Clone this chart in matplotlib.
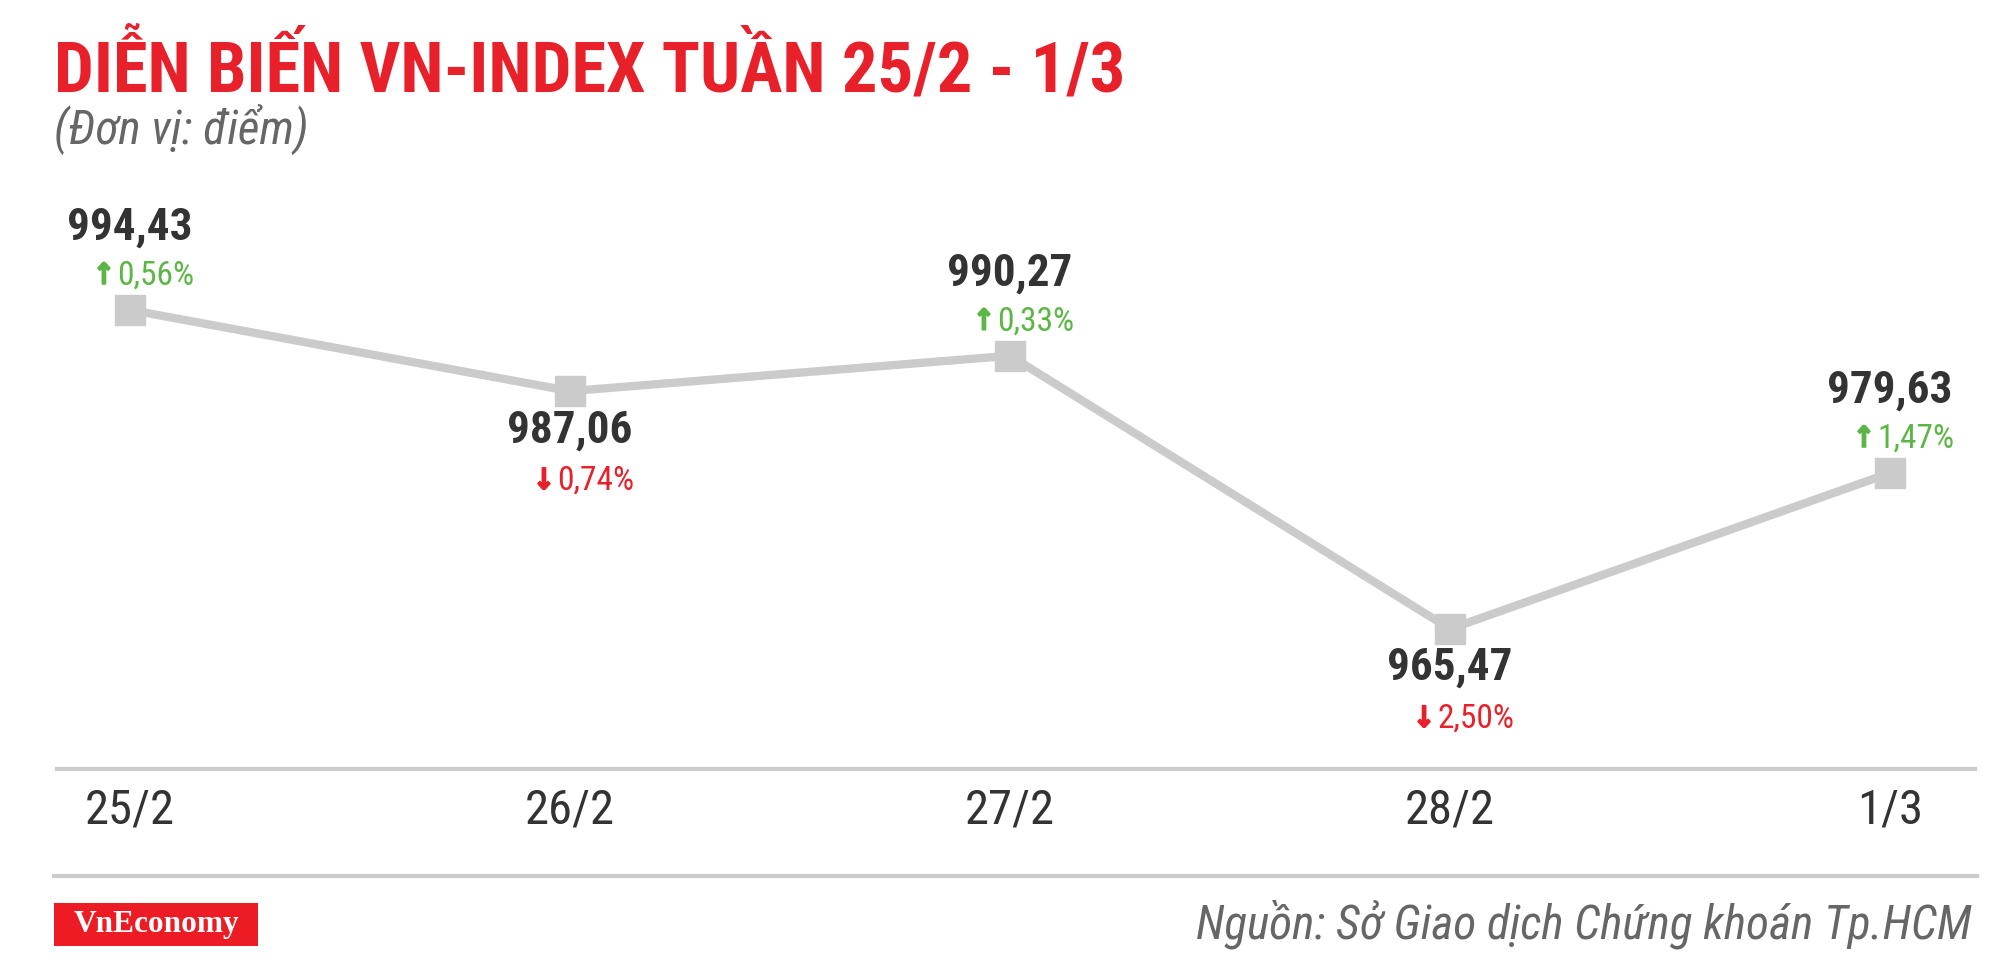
import matplotlib
matplotlib.use("Agg")
import matplotlib.pyplot as plt
import matplotlib.patheffects as pe
from matplotlib.lines import Line2D
from matplotlib.patches import Rectangle

# Du lieu VN-Index tuan 25/2 - 1/3
ngay = ["25/2", "26/2", "27/2", "28/2", "1/3"]
diem = [994.43, 987.06, 990.27, 965.47, 979.63]
nhan_diem = ["994,43", "987,06", "990,27", "965,47", "979,63"]
thay_doi = ["0,56%", "0,74%", "0,33%", "2,50%", "1,47%"]
tang = [True, False, True, False, True]
nhan_tren = [True, False, True, False, True]   # nhan dat tren hay duoi diem

DO = "#e8202a"
XANH = "#5cb646"
XAM = "#cbcbcb"
CHU = "#333333"
FONT = ["Roboto Condensed", "DejaVu Sans"]

fig = plt.figure(figsize=(20, 9.66), dpi=100)
ax = fig.add_axes([0.0285, 0.2039, 0.959, 0.641])

x = list(range(len(ngay)))
ax.plot(x, diem, color=XAM, lw=6, marker="s", markersize=21,
        markerfacecolor=XAM, markeredgecolor=XAM, solid_joinstyle="miter", zorder=2)

for i, (xi, yi) in enumerate(zip(x, diem)):
    mau = XANH if tang[i] else DO
    mui_ten = "\u2191" if tang[i] else "\u2193"
    if nhan_tren[i]:
        dy_v, dy_p = 82, 34
    else:
        dy_v, dy_p = -39, -90
    ax.annotate(nhan_diem[i], (xi, yi), xytext=(0, dy_v), textcoords="offset pixels",
                ha="center", va="center", fontsize=32.5, fontweight="bold",
                color=CHU, family=FONT)
    so = ax.annotate(thay_doi[i], (xi, yi), xytext=(64, dy_p), textcoords="offset pixels",
                     ha="right", va="center", fontsize=24, color=mau, family=FONT)
    # mui ten dam dat ngay truoc con so
    ax.annotate(mui_ten, xy=(0, 0.5), xycoords=so, xytext=(-2, 0),
                textcoords="offset pixels", ha="right", va="center",
                fontsize=21, fontweight="bold", color=mau,
                family=["DejaVu Sans"], fontstretch="condensed",
                path_effects=[pe.withStroke(linewidth=1.2, foreground=mau)])

ax.set_xlim(-0.166, 4.193)
ax.set_ylim(952.76, 1008.96)
ax.set_xticks(x)
ax.set_xticklabels(ngay, fontsize=35, color=CHU, family=FONT)
ax.set_yticks([])
ax.tick_params(axis="x", length=0, pad=13)
for s in ["top", "left", "right"]:
    ax.spines[s].set_visible(False)
ax.spines["bottom"].set_color(XAM)
ax.spines["bottom"].set_linewidth(3)
ax.patch.set_alpha(0)

# Tieu de
fig.text(0.027, 0.905, "DIỄN BIẾN VN-INDEX TUẦN 25/2 - 1/3", fontsize=50.8,
         fontweight="bold", color=DO, family=FONT, va="baseline", ha="left")
fig.text(0.027, 0.851, "(Đơn vị: điểm)", fontsize=34, style="italic",
         color="#666666", family=FONT, va="baseline", ha="left")

# Duong ke duoi
fig.add_artist(Line2D([0.027, 0.9885], [0.0932, 0.0932], transform=fig.transFigure,
                      color=XAM, lw=3))

# Logo VnEconomy
fig.add_artist(Rectangle((0.027, 0.0207), 0.102, 0.0445, transform=fig.transFigure,
                         facecolor="#ed1c24", edgecolor="none"))
fig.text(0.078, 0.043, "VnEconomy", fontsize=22.5, fontweight="bold", color="white",
         family=["Liberation Serif", "DejaVu Serif"], ha="center", va="center")

# Nguon
fig.text(0.986, 0.028, "Nguồn: Sở Giao dịch Chứng khoán Tp.HCM", fontsize=34,
         style="italic", color="#666666", family=FONT,
         ha="right", va="baseline")

fig.savefig("out.png", dpi=100)
